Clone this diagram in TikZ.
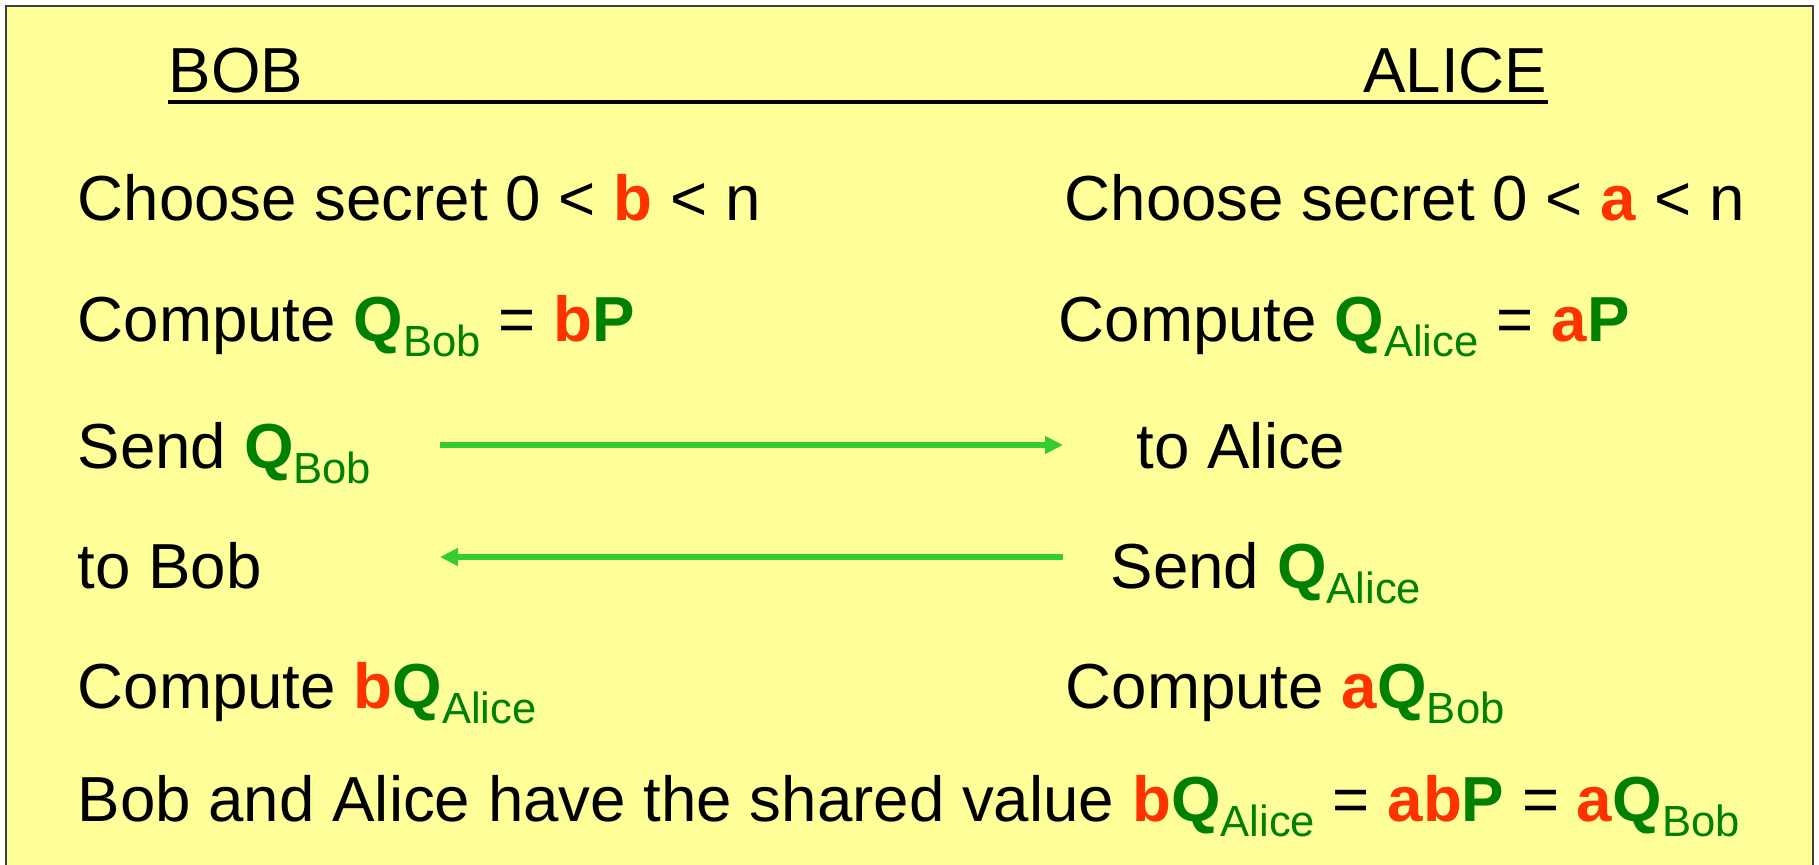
\documentclass[tikz,border=0pt]{standalone}
\usepackage{fontspec}
\setmainfont{Liberation Sans}
\usetikzlibrary{positioning, arrows.meta}
\definecolor{boxYellow}{RGB}{255,255,153}
\definecolor{keyRed}{RGB}{255,51,0}
\definecolor{ptGreen}{RGB}{0,128,0}
\definecolor{arrowGreen}{RGB}{51,204,51}
\newcommand{\sk}[1]{\textcolor{keyRed}{\textbf{#1}}}
\newcommand{\ptq}[1]{\textcolor{ptGreen}{\textbf{#1}}}
\newcommand{\idx}[1]{\raisebox{-4.3pt}{\textcolor{ptGreen}{\fontsize{12.4}{14}\selectfont #1}}}

\begin{document}
\begin{tikzpicture}[
        x=0.01cm, y=-0.01cm,
        txt/.style={
            anchor=base west,
            inner sep=0pt,
            font=\fontsize{18.1}{21}\selectfont
        },
        flecha/.style={
            -{Triangle[length=0.18cm, width=0.17cm]},
            draw=arrowGreen,
            line width=0.055cm
        }
    ]

        \useasboundingbox (0,0) rectangle (1819,864);
        \clip (0,0) rectangle (1819,864);
        \draw[fill=boxYellow, draw=black!75, line width=0.02cm] (6,6) rectangle (1813,900);

        \node[txt] (bob) at (168,93) {BOB};
        \node[txt, anchor=base east] (alice) at (1548,93) {ALICE};
        \draw[line width=0.04cm] ([yshift=-0.09cm]bob.base west) -- ([yshift=-0.09cm]alice.base east);

        \node[txt] (chooseb) at (77,221) {Choose secret 0 < \sk{b} < n};
        \node[txt] (choosea) at (1064,221) {Choose secret 0 < \sk{a} < n};
        \node[txt] (qbob) at (77,341) {Compute \ptq{Q}\idx{Bob} = \sk{b}\ptq{P}};
        \node[txt] (qalice) at (1058,341) {Compute \ptq{Q}\idx{Alice} = \sk{a}\ptq{P}};
        \node[txt] (sendb) at (77,468) {Send \ptq{Q}\idx{Bob}};
        \node[txt] (toalice) at (1136,468) {to Alice};
        \node[txt] (tobob) at (77,588) {to Bob};
        \node[txt] (senda) at (1110,588) {Send \ptq{Q}\idx{Alice}};
        \node[txt] (keyb) at (77,708) {Compute \sk{b}\ptq{Q}\idx{Alice}};
        \node[txt] (keya) at (1065,708) {Compute \sk{a}\ptq{Q}\idx{Bob}};
        \node[txt] (shared) at (77,821) {Bob and Alice have the shared value \sk{b}\ptq{Q}\idx{Alice} = \sk{ab}\ptq{P} = \sk{a}\ptq{Q}\idx{Bob}};

        \coordinate (tob) at (440,445);
        \coordinate (toa) at (1063,445);
        \coordinate (froma) at (1063,557);
        \coordinate (fromb) at (440,557);

        \draw[flecha] (tob) -- (toa);
        \draw[flecha] (froma) -- (fromb);

    \end{tikzpicture}
\end{document}
